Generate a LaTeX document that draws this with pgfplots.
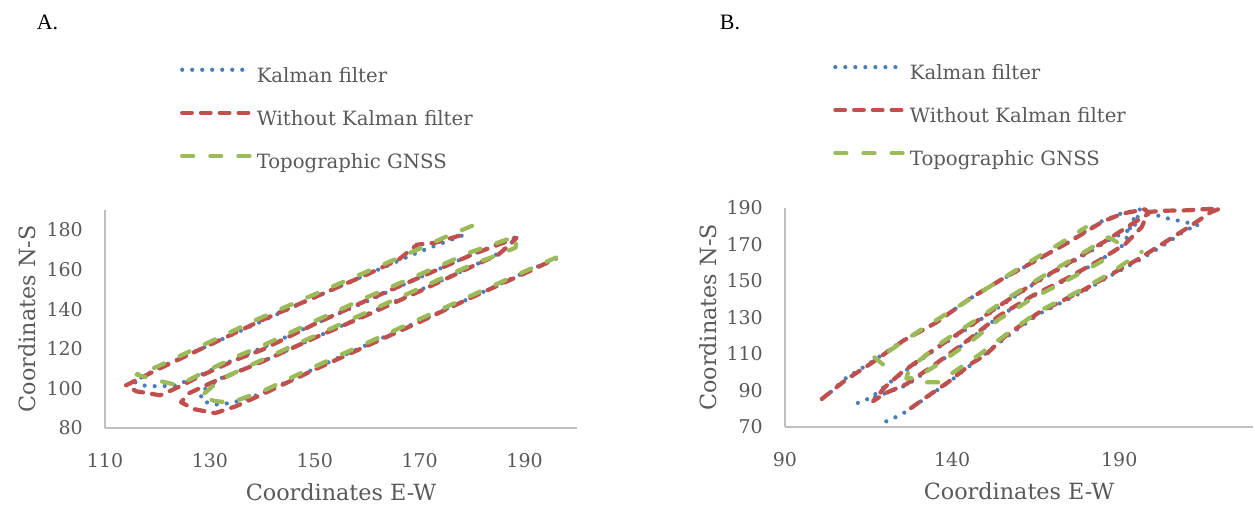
\documentclass[border=0pt]{standalone}
\usepackage{fontspec}
\setmainfont{DejaVu Serif}
\newfontfamily\labfont{Liberation Serif}
\usepackage{pgfplots}
\pgfplotsset{compat=1.18}

\definecolor{kalblue}{HTML}{4A7EBB}
\definecolor{nokred}{HTML}{C0504D}
\definecolor{topgreen}{HTML}{9BBB59}
\definecolor{txtgray}{HTML}{595959}
\definecolor{axgray}{HTML}{BFBFBF}

\pgfplotsset{
  panel/.style={
    scale only axis,
    axis lines*=left,
    axis line style={axgray, line width=0.9pt},
    major tick length=0pt,
    tick style={draw=none},
    /pgf/number format/assume math mode=true,
    ticklabel style={font=\fontsize{10.8}{13}\selectfont, text=txtgray},
    xticklabel style={yshift=-0.38cm},
    yticklabel style={xshift=-0.32cm},
    every axis x label/.style={at={(axis description cs:0.5,-0.295)}, anchor=center},
    every axis y label/.style={at={(axis description cs:-0.165,0.5)}, rotate=90, anchor=center},
    label style={font=\fontsize{12.7}{15}\selectfont, text=txtgray},
    xlabel={Coordinates E-W},
    ylabel={Coordinates N-S},
    unbounded coords=jump,
    clip=false,
    legend cell align=left,
    legend style={draw=none, fill=none, inner sep=0pt, outer sep=0pt,
      row sep=0.41cm, column sep=0.05cm, anchor=north west,
      font=\fontsize{11.2}{13}\selectfont, text=txtgray,
      nodes={inner sep=0pt, text height=0.35cm, text depth=0.1cm}},
    legend image code/.code={\draw[##1] (0cm,0.13cm) -- (1.4cm,0.13cm);},
  },
  kal/.style={kalblue, line width=2.4pt, line cap=round, line join=round, dash pattern=on 0pt off 5.7pt},
  nok/.style={nokred, line width=2.4pt, line cap=round, line join=round, dash pattern=on 5.5pt off 5.2pt},
  topo/.style={topgreen, line width=2.4pt, line cap=round, line join=round, dash pattern=on 6.3pt off 9.7pt},
}

\begin{document}
\begin{tikzpicture}
\useasboundingbox (-2.1cm,-1.62cm) rectangle (23cm,8.56cm);

\node[font=\labfont\fontsize{12.5}{14}\selectfont, anchor=center] at (-1.15cm,8.12cm) {A.};
\node[font=\labfont\fontsize{12.5}{14}\selectfont, anchor=center] at (12.5cm,8.12cm) {B.};

% ---- A ----
\begin{axis}[panel, at={(0cm,0cm)}, width=9.44cm, height=4.36cm,
  xmin=110, xmax=200, ymin=80, ymax=190,
  xtick={110,130,150,170,190}, ytick={80,100,120,140,160,180},
  legend style={at={(axis description cs:0.159,1.665)}}]
\addplot[kal] coordinates {
 (178,177) (174,173) (170,169) (160,157.5) (150,146) (140,134) (130,122) (120,110)
 (115.5,103.5) (117,101.5) (120,101) (123.5,101.5) (128,106.5) (135,115) (140,120.5)
 (150,132.5) (160,144) (170,156) (180,167.5) (186,174) (188.5,176.5) (187,172)
 (185,168) (180,161.5) (170,149.5) (160,137.5) (150,125.5) (140,113.5) (132,105)
 (128.2,98) (128.5,93.6) (131,91.8) (134,92.6) (136,94) (140,97.5) (150,110)
 (160,122) (170,134) (180,146) (190,158.5) (195.5,165)};
\addlegendentry{Kalman filter}
\addplot[nok] coordinates {
 (177.5,177) (173,173.5) (169.5,172.5) (166,165) (160,157.5) (150,146) (140,134.5)
 (130,122) (120,109.5) (114,101.5) (116,98.5) (120.5,96.5) (123.5,100) (128,106)
 (135,114.5) (140,119.5) (150,132.5) (160,144.5) (170,156) (180,167.5) (186,173.5)
 (188.5,176) (187,172) (185,167.5) (180,161.5) (170,149) (160,137) (150,125.5)
 (140,113.5) (130,102.5) (126,97.5) (124.5,93) (127,89.5) (131,87.5) (135,91)
 (140,97) (150,109.5) (160,121.5) (170,133.5) (180,146) (190,158) (196,165.5)};
\addlegendentry{Without Kalman filter}
\addplot[topo] coordinates {
 (180,182) (175,176.5) (170,170.5) (160,159) (150,147.5) (140,136) (130,123.5)
 (120,111) (116,107) (120,104) (124,101.5) (128,107) (135,116) (140,121.5)
 (150,134) (160,146) (170,157.5) (180,169) (186.5,175) (188.5,176.5) (188.3,171)
 (185.6,168) (180,162.5) (170,150.5) (160,138.5) (150,126.5) (140,114.5) (132,104.5)
 (128.2,95.7) (131,93.6) (134,92.8) (140,98.5) (150,111) (160,123) (170,135)
 (180,147) (190,159) (196,166)};
\addlegendentry{Topographic GNSS}
\end{axis}

% ---- B ----
\begin{axis}[panel, at={(13.6cm,0.02cm)}, width=9.36cm, height=4.38cm,
  xmin=90, xmax=230, ymin=70, ymax=190,
  xtick={90,140,190}, ytick={70,90,110,130,150,170,190},
  legend style={at={(axis description cs:0.103,1.665)}}]
\addplot[kal] coordinates {
 (120.3,73.1) (124.8,76.8) (127.5,80) (131,84.5) (139,94.5) (146,104.5) (156,119)
 (166,132) (179,144) (187,152.5) (196,161.5) (204,170.5) (210,178) (213.6,180.5)
 (209.7,182.3) (202.7,185) (197,189.5) (190.5,187) (184.5,182.5) (175,171.5)
 (165,161) (155,151) (145,140) (135,127) (125,117) (115,104.5) (108,96.5) (103,88)
 (nan,nan)
 (111.8,83.2) (113.8,85) (115.3,85.4) (120,92.5) (125,99.5) (135,112.5) (145,124.5)
 (155,137) (165,149) (177,161.5) (187,172.5) (193,178) (196,183) (195,187)
 (193,178) (191.5,170) (183.5,160.5) (174,150.5) (164,141.5) (154,130.5) (145,117.5)
 (135,104) (126.5,93) (120,88.5) (116.5,86)};
\addlegendentry{Kalman filter}
\addplot[nok] coordinates {
 (127.7,80.4) (131.2,85) (139.2,95.1) (146.1,105.2) (150,109.5) (156,119.9) (166,132.8)
 (178.8,144.6) (186.8,152.9) (195.7,162) (203.7,171.3) (211.5,180.4) (217.5,187.8)
 (220,189.6) (215,189.3) (209.7,188.7) (203,188.5) (198.7,187.8) (196.7,179.5)
 (191.8,170.3) (183.8,161.1) (173.9,151) (164,141.9) (154,130.9) (145,118) (135,104.5)
 (126.3,93.5) (120,88.5) (116.3,84.1) (120,92) (125,100) (135,113) (145,125)
 (155,137.5) (165,149.5) (176.9,162) (186.8,173) (193.8,181.3) (198.7,186.8)
 (197.7,189.3) (190.8,186.9) (184.8,182.3) (174.9,171.3) (165,161.2) (155,151.1)
 (145.1,140.1) (135.2,127.2) (125.3,117.2) (115.3,104.3) (108.4,96.1) (98.9,82.3)};
\addlegendentry{Without Kalman filter}
\addplot[topo] coordinates {
 (119.3,104.3) (116.5,108.5) (121,111.5) (130,122.5) (140,134) (150,145.5) (160,157)
 (170,168) (180,179.5)
 (nan,nan)
 (189.3,171.3) (186.8,174) (177,163) (167,152.5) (157,141) (147,128.5) (137,116.5)
 (129.5,105.5) (127,101) (126.3,96.5) (129.3,97) (135,103.5) (145,116) (154,129)
 (164,140.5) (174,150) (184,160) (189,166)
 (nan,nan)
 (132.5,94.5) (136,94.5) (140,99.5) (148,109.5) (156,120.5) (166,133.5) (179,145.5)
 (187,154) (196.7,166)};
\addlegendentry{Topographic GNSS}
\end{axis}
\end{tikzpicture}
\end{document}
